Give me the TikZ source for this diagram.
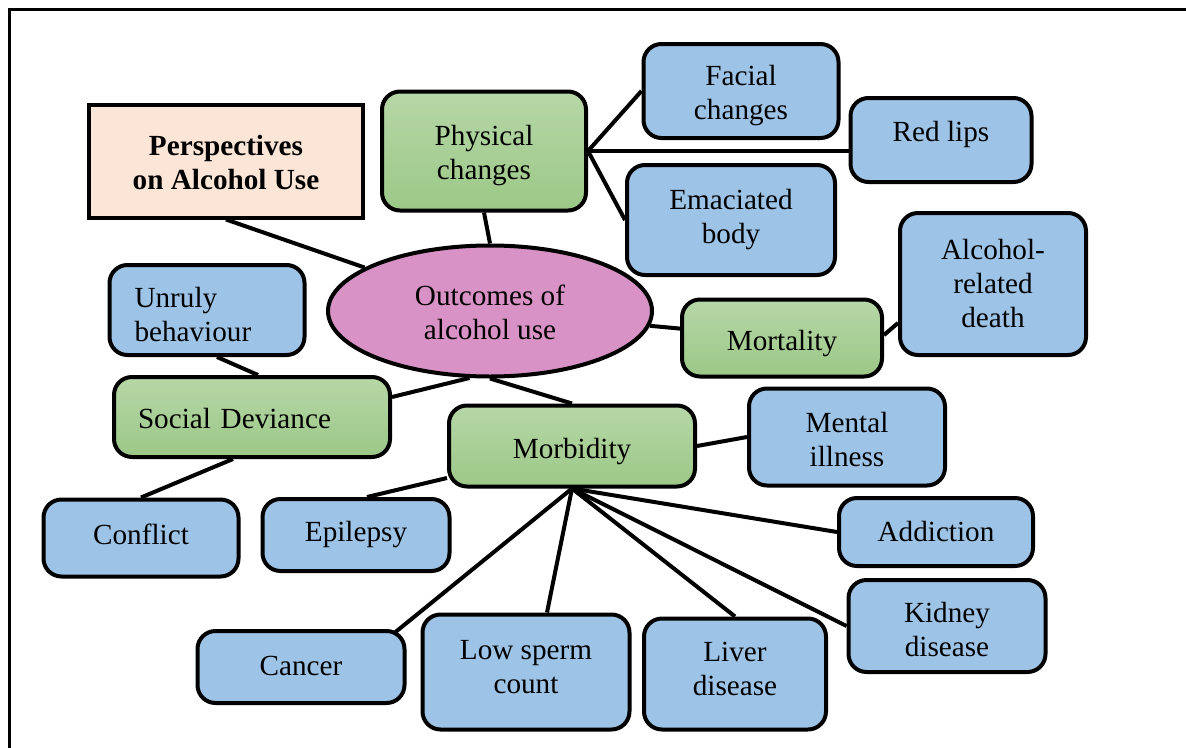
\documentclass[tikz,border=0pt]{standalone}
\usepackage{fontspec}
\setmainfont{Liberation Serif}
\usetikzlibrary{shapes.geometric,backgrounds}

\definecolor{leafblue}{RGB}{157,195,230}
\definecolor{greentop}{RGB}{182,215,167}
\definecolor{greenbot}{RGB}{156,200,135}
\definecolor{hubpink}{RGB}{216,146,198}
\definecolor{titlepeach}{RGB}{251,229,214}

% shift the ink of a label up (positive) or down (negative) without resizing its box
\newcommand\lift[2]{\raisebox{#1}[\height][\depth]{#2}}
% stacks of lines, centred or flush left, usable inside \lift
\newcommand\lines[1]{\begin{tabular}{@{}c@{}}#1\end{tabular}}
\newcommand\leftlines[1]{\begin{tabular}{@{}l@{}}#1\end{tabular}}

\tikzset{
  base/.style={draw=black, line width=4pt, inner sep=4pt, align=center,
    font=\fontsize{29.2}{34}\selectfont},
  leaf/.style={base, rectangle, rounded corners=18pt, fill=leafblue},
  group/.style={base, rectangle, rounded corners=18pt,
    top color=greentop, bottom color=greenbot},
  titlebox/.style={base, rectangle, fill=titlepeach,
    font=\bfseries\fontsize{29.2}{34}\selectfont},
  hub/.style={base, ellipse, fill=hubpink, inner sep=0pt},
  link/.style={line width=4pt},
  frame/.style={line width=3pt},
}

\begin{document}
\begin{tikzpicture}[x=1pt, y=-1pt]
  \clip (0,0) rectangle (1186,747);
  \draw[frame] (1200,9) -- (9,9) -- (9,760);

  % centre and first ring
  \node[hub, minimum width=324pt, minimum height=131pt] (outcome) at (490,311)
    {\lift{-5pt}{\lines{Outcomes of\\alcohol use}}};
  \node[titlebox, minimum width=274pt, minimum height=113pt] (persp) at (226,161)
    {\lift{-5pt}{\lines{Perspectives\\on Alcohol Use}}};
  \node[group, minimum width=204pt, minimum height=119pt] (phys) at (484,151)
    {\lift{-5pt}{\lines{Physical\\changes}}};
  \node[group, minimum width=200pt, minimum height=77pt] (mort) at (782,338)
    {\lift{-6pt}{Mortality}};
  \node[group, minimum width=276pt, minimum height=80pt, text width=228pt,
        inner xsep=24pt, align=left] (social) at (252,417)
    {\lift{-5pt}{\leftlines{Social Deviance}}};
  \node[group, minimum width=246pt, minimum height=81pt] (morb) at (572,446)
    {\lift{-6pt}{Morbidity}};

  % physical changes
  \node[leaf, minimum width=195pt, minimum height=94pt] (facial) at (741,91)
    {\lift{-5pt}{\lines{Facial\\changes}}};
  \node[leaf, minimum width=181pt, minimum height=84pt] (redlips) at (941,140)
    {\lift{6pt}{Red lips}};
  \node[leaf, minimum width=208pt, minimum height=110pt] (emac) at (731,220)
    {\lines{Emaciated\\body}};

  % mortality
  \node[leaf, minimum width=186pt, minimum height=142pt] (death) at (993,284)
    {\lift{-3pt}{\lines{Alcohol-\\related\\death}}};

  % social deviance
  \node[leaf, minimum width=195pt, minimum height=90pt, text width=145pt,
        inner xsep=25pt, align=left] (unruly) at (207,310)
    {\lift{-8pt}{\leftlines{Unruly\\behaviour}}};
  \node[leaf, minimum width=195pt, minimum height=77pt] (conflict) at (141,538)
    {\lift{4pt}{Conflict}};

  % morbidity
  \node[leaf, minimum width=187pt, minimum height=72pt] (epil) at (356,535)
    {Epilepsy};
  \node[leaf, minimum width=196pt, minimum height=97pt] (mental) at (847,437)
    {\lift{-6pt}{\lines{Mental\\illness}}};
  \node[leaf, minimum width=194pt, minimum height=68pt] (addict) at (936,532)
    {Addiction};
  \node[leaf, minimum width=197pt, minimum height=92pt] (kidney) at (947,626)
    {\lift{-7pt}{\lines{Kidney\\disease}}};
  \node[leaf, minimum width=207pt, minimum height=72pt] (cancer) at (301,667)
    {\lift{1pt}{Cancer}};
  \node[leaf, minimum width=207pt, minimum height=115pt] (sperm) at (526,672)
    {\lift{2pt}{\lines{Low sperm\\count}}};
  \node[leaf, minimum width=182pt, minimum height=111pt] (liver) at (735,674)
    {\lift{2pt}{\lines{Liver\\disease}}};

  \begin{scope}[on background layer]
    \draw[link] (persp.south) -- (outcome);
    \draw[link] (phys.south) -- (outcome.north);
    \draw[link] (phys.east) -- (facial.west);
    \draw[link] (phys.east) -- (phys.east -| redlips.west);
    \draw[link] (phys.east) -- (emac.west);
    \draw[link] (outcome) -- (mort);
    \draw[link] ([yshift=3pt]mort.east) -- ([yshift=-39pt]death.west);
    \draw[link] ([xshift=10pt]unruly.south) -- ([xshift=6pt]social.north);
    \draw[link] ([yshift=20pt]social.east) -- (outcome.253);
    \draw[link] (outcome.south) -- (morb.north);
    \draw[link] ([xshift=-19pt]social.south) -- (conflict.north);
    \draw[link] ([yshift=-32pt]morb.west) -- ([xshift=11pt]epil.north);
    \draw[link] (morb.east) -- (mental.west);
    \draw[link] (morb.south) -- ([xshift=-11pt,yshift=-3pt]cancer.north east);
    \draw[link] (morb.south) -- ([xshift=21pt]sperm.north);
    \draw[link] (morb.south) -- (liver.north);
    \draw[link] (morb.south) -- (kidney.west);
    \draw[link] (morb.south) -- (addict.west);
  \end{scope}
\end{tikzpicture}
\end{document}
